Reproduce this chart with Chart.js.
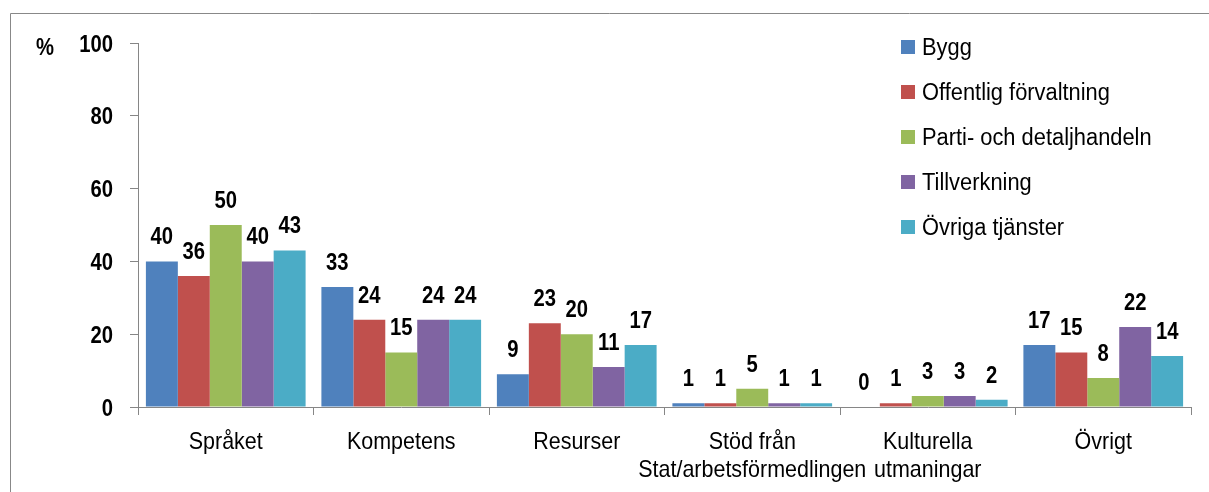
<!DOCTYPE html>
<html>
<head>
<meta charset="utf-8">
<script src="https://cdn.jsdelivr.net/npm/chart.js@4.4.1/dist/chart.umd.min.js"></script>
<style>
html,body{margin:0;padding:0;background:#fff;}
#wrap{width:1209px;height:492px;position:relative;}
</style>
</head>
<body>
<div id="wrap"><canvas id="c" width="1209" height="492"></canvas></div>
<script>
const categories = ["Språket", "Kompetens", "Resurser", ["Stöd från", "Stat/arbetsförmedlingen"], ["Kulturella", "utmaningar"], "Övrigt"];
const seriesNames = ["Bygg", "Offentlig förvaltning", "Parti- och detaljhandeln", "Tillverkning", "Övriga tjänster"];
const bygg = [40, 33, 9, 1, 0, 17];
const offentlig = [36, 24, 23, 1, 1, 15];
const parti = [50, 15, 20, 5, 3, 8];
const tillverkning = [40, 24, 11, 1, 3, 22];
const ovriga = [43, 24, 17, 1, 2, 14];
const yTicks = [0, 20, 40, 60, 80, 100];
const colors = ["#4F81BD", "#C0504D", "#9BBB59", "#8064A2", "#4BACC6"];

const FONT = "'Liberation Sans', Arial, sans-serif";
const KB = 0.88;   // horizontal squeeze, bold text
const KR = 0.93;   // horizontal squeeze, legend text
const KC = 0.895;  // horizontal squeeze, category labels
const seriesValues = [bygg, offentlig, parti, tillverkning, ovriga];

function txt(ctx, s, x, y, align, k) {
  ctx.save();
  ctx.translate(x, y);
  ctx.scale(k, 1);
  ctx.textAlign = align;
  ctx.textBaseline = 'alphabetic';
  ctx.fillText(s, 0, 0);
  ctx.restore();
}

const extras = {
  id: 'extras',
  beforeDraw(chart) {
    const ctx = chart.ctx;
    ctx.save();
    ctx.strokeStyle = '#888888';
    ctx.lineWidth = 1;
    ctx.beginPath();
    ctx.moveTo(10.5, 492);
    ctx.lineTo(10.5, 13.5);
    ctx.lineTo(1209, 13.5);
    ctx.stroke();
    ctx.restore();
  },
  afterDraw(chart) {
    const ctx = chart.ctx;
    ctx.save();
    ctx.fillStyle = '#000';
    ctx.font = "bold 23px " + FONT;
    txt(ctx, '%', 36, 55, 'left', KB);
    const ys = chart.scales.y;
    ys.ticks.forEach(t => {
      txt(ctx, String(t.value), 113, ys.getPixelForValue(t.value) + 8.5, 'right', KB);
    });
    const xs = chart.scales.x;
    ctx.font = "24px " + FONT;
    chart.data.labels.forEach((lab, i) => {
      const lines = Array.isArray(lab) ? lab : [lab];
      const cx = xs.getPixelForTick(i);
      lines.forEach((l, k) => txt(ctx, l, cx, 449 + k * 28, 'center', KC));
    });
    ctx.font = "bold 23px " + FONT;
    chart.data.datasets.forEach((ds, i) => {
      const meta = chart.getDatasetMeta(i);
      meta.data.forEach((bar, j) => {
        txt(ctx, String(ds.data[j]), bar.x, bar.y - 17, 'center', KB);
      });
    });
    ctx.font = "23.5px " + FONT;
    chart.data.datasets.forEach((ds, i) => {
      const base = 55 + i * 45;
      ctx.fillStyle = ds.backgroundColor;
      ctx.fillRect(901, base - 15, 14, 14);
      ctx.fillStyle = '#000';
      txt(ctx, ds.label, 922, base, 'left', KR);
    });
    ctx.restore();
  }
};

new Chart(document.getElementById('c'), {
  type: 'bar',
  data: {
    labels: categories,
    datasets: seriesNames.map((n, i) => ({
      label: n,
      data: seriesValues[i],
      backgroundColor: colors[i],
      borderWidth: 0,
      categoryPercentage: 0.91,
      barPercentage: 1.0
    }))
  },
  options: {
    responsive: false,
    animation: false,
    devicePixelRatio: 1,
    layout: { padding: { top: 43, right: 18, left: 0, bottom: 0 } },
    plugins: { legend: { display: false }, tooltip: { enabled: false } },
    scales: {
      x: {
        grid: { display: true, drawOnChartArea: false, drawTicks: true, tickLength: 8, color: '#868686', offset: true },
        border: { display: true, color: '#868686', width: 1 },
        ticks: { display: false, autoSkip: false, maxRotation: 0 },
        afterFit(s) { s.height = 85; }
      },
      y: {
        min: 0, max: 100,
        afterBuildTicks(s) { s.ticks = yTicks.map(v => ({ value: v })); },
        grid: { display: true, drawOnChartArea: false, drawTicks: true, tickLength: 8, color: '#868686' },
        border: { display: true, color: '#868686', width: 1 },
        ticks: { display: false },
        afterFit(s) { s.width = 138; }
      }
    }
  },
  plugins: [extras]
});
</script>
</body>
</html>
